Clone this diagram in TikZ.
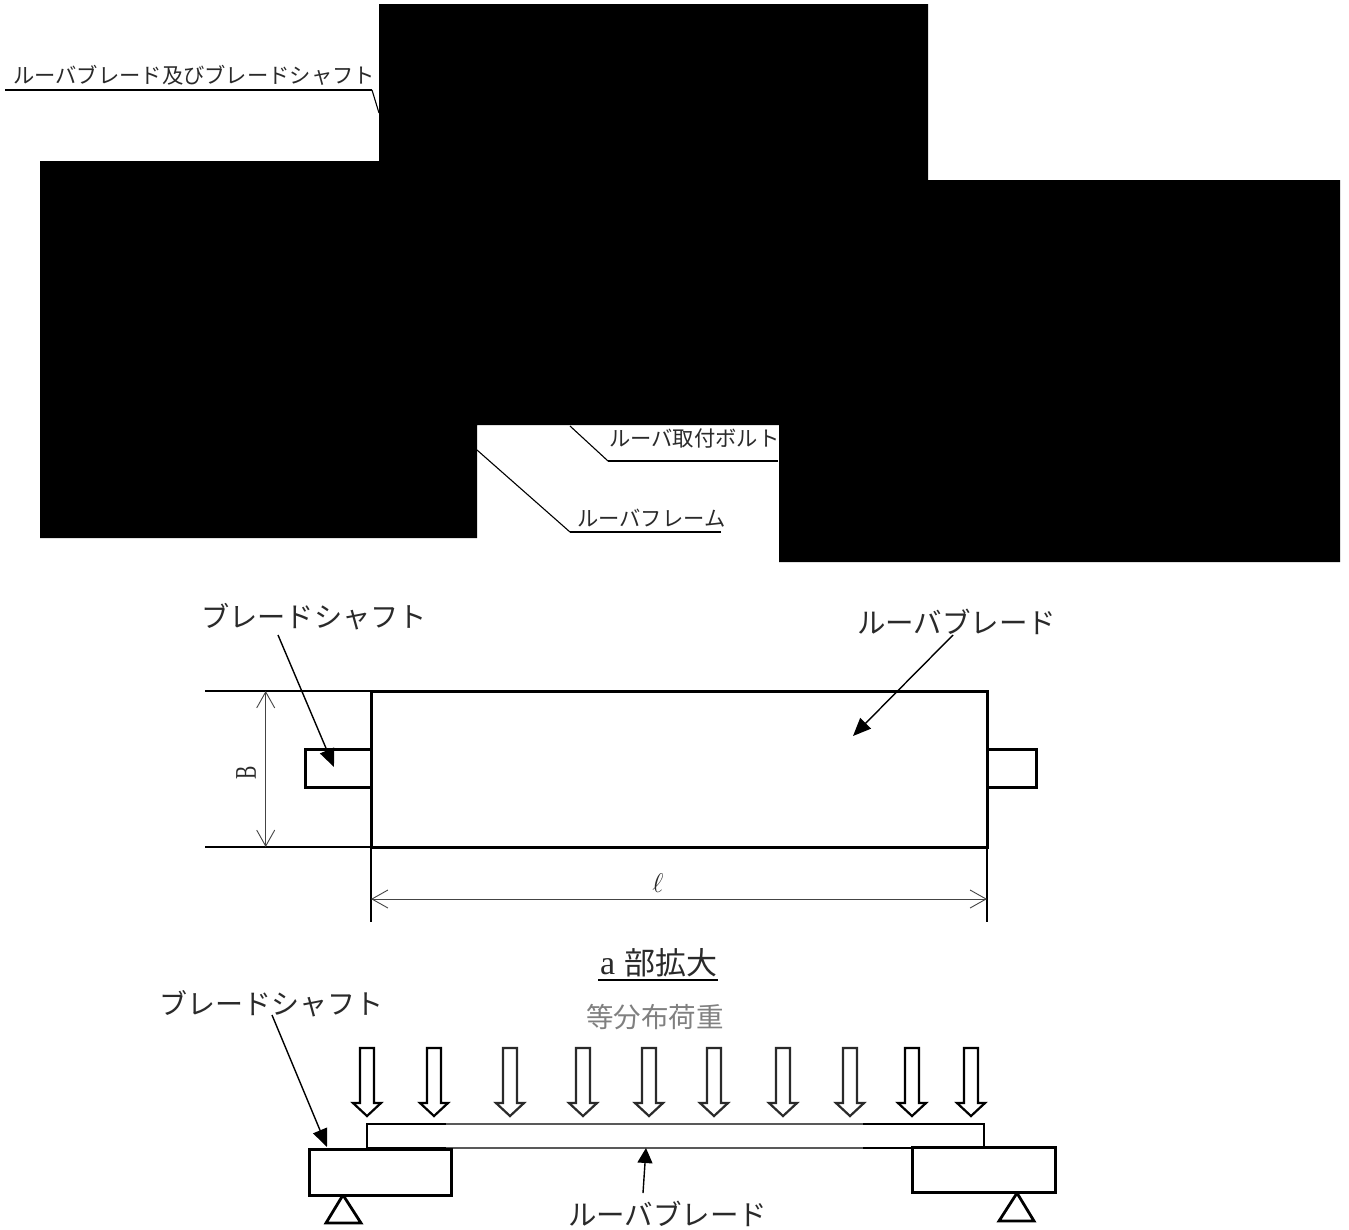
\documentclass[tikz,border=0pt]{standalone}
\usepackage{fontspec}
\setmainfont{Noto Sans CJK JP}
\newfontfamily\latinserif{Liberation Serif}
\usetikzlibrary{arrows.meta}
\definecolor{ink}{HTML}{2A2A2A}
\definecolor{dimgr}{HTML}{444444}
\tikzset{
  lab/.style={inner sep=0pt,text=ink,anchor=west},
  leader/.style={line width=1.8pt,line join=miter},
  thinld/.style={line width=1.1pt},
  partbox/.style={draw=black,line width=3pt,fill=white,inner sep=0pt,outer sep=0pt,anchor=north west},
  extline/.style={line width=1.1pt,black},
  dimline/.style={line width=.9pt,dimgr,{Straight Barb[length=16pt,width=18pt,line width=.9pt]}-{Straight Barb[length=16pt,width=18pt,line width=.9pt]}},
  ptr/.style={line width=1.4pt,-{Triangle[length=18pt,width=15pt]}},
  loadarrow/.style={line width=2.2pt,fill=white,line join=miter},
  support/.style={line width=2.8pt,fill=white,line join=miter}
}
\newcommand{\loadat}[2]{\draw[loadarrow,draw=#2] (#1-7,1048) -- (#1+7,1048) -- (#1+7,1103) -- (#1+14,1103) -- (#1,1116) -- (#1-14,1103) -- (#1-7,1103) -- cycle;}
\begin{document}
\begin{tikzpicture}[x=1pt,y=-1pt]
\useasboundingbox (0,0) rectangle (1349,1229);
\fill[white] (0,0) rectangle (1349,1229);
% black masked area
\fill[black] (379,4) -- (928,4) -- (928,180) -- (1340,180) -- (1340,562) -- (779,562) -- (779,425) -- (477,425) -- (477,538) -- (40,538) -- (40,161) -- (379,161) -- cycle;
% upper labels
\node[lab,font=\fontsize{21.3}{21}\selectfont] (t1) at (13,75) {ルーバブレード及びブレードシャフト};
\node[lab,font=\fontsize{21.3}{21}\selectfont] (t2) at (609,438) {ルーバ取付ボルト};
\node[lab,font=\fontsize{21.3}{21}\selectfont] (t3) at (577,518) {ルーバフレーム};
\coordinate (l1a) at (5,90); \coordinate (l1b) at (372,90); \coordinate (l1c) at (379,113);
\coordinate (l2a) at (778,461); \coordinate (l2b) at (608,461); \coordinate (l2c) at (570,426);
\coordinate (l3a) at (721,532); \coordinate (l3b) at (570,532); \coordinate (l3c) at (477,450);
\draw[leader] (l1a) -- (l1b); \draw[thinld] (l1b) -- (l1c);
\draw[leader] (l2a) -- (l2b); \draw[thinld] (l2b) -- (l2c);
\draw[leader] (l3a) -- (l3b); \draw[thinld] (l3b) -- (l3c);
% plan view
\node[partbox,minimum width=66pt,minimum height=38pt] (shL) at (305,749) {};
\node[partbox,minimum width=49pt,minimum height=38pt] (shR) at (987,749) {};
\node[partbox,minimum width=616pt,minimum height=156pt] (blade) at (371,691) {};
\coordinate (e1) at (205,691); \coordinate (e2) at (205,847);
\coordinate (e3) at (371,922); \coordinate (e4) at (987,922);
\draw[extline] (e1) -- (blade.north west);
\draw[extline] (e2) -- (blade.south west);
\draw[extline] (blade.south west) -- (e3);
\draw[extline] (blade.south east) -- (e4);
\coordinate (dB1) at (265.7,691); \coordinate (dB2) at (265.7,847);
\coordinate (dL1) at (371,899); \coordinate (dL2) at (987,899);
\draw[dimline] (dB1) -- (dB2);
\draw[dimline] (dL1) -- (dL2);
\node[inner sep=0pt,rotate=90,yscale=1.5,text=ink,font=\latinserif\fontsize{20}{20}\selectfont] (lB) at (246,773) {B};
\node[inner sep=0pt,scale=1.3,text=ink,font=\fontsize{20}{20}\selectfont] (lL) at (658,883) {$\ell$};
\node[lab,font=\fontsize{28.2}{28}\selectfont] (t4) at (201,617) {ブレードシャフト};
\node[lab,font=\fontsize{28.5}{28}\selectfont] (t5) at (857,622) {ルーバブレード};
\coordinate (a1s) at (278,635); \coordinate (a1e) at (334,767);
\coordinate (a2s) at (953,635); \coordinate (a2e) at (853,736);
\draw[ptr] (a1s) -- (a1e);
\draw[ptr] (a2s) -- (a2e);
% side view
\node[lab,font=\fontsize{31}{31}\selectfont] (t6) at (600,963) {\makebox[24.5pt][l]{\latinserif\fontsize{34}{34}\selectfont a}部拡大};
\coordinate (u1) at (598,980); \coordinate (u2) at (718,980);
\draw[line width=1.8pt] (u1) -- (u2);
\node[lab,font=\fontsize{27.5}{28}\selectfont,text=gray] (t7) at (586,1017) {等分布荷重};
\node[lab,font=\fontsize{28}{28}\selectfont] (t8) at (159,1004) {ブレードシャフト};
\node[lab,font=\fontsize{28.5}{28}\selectfont] (t9) at (568,1214) {ルーバブレード};
\node[partbox,minimum width=617pt,minimum height=24pt,line width=2.4pt] (beam) at (367,1124) {};
\draw[line width=2.6pt,draw=white!35!black] (446,1124) -- (863,1124);
\draw[line width=2.6pt,draw=white!35!black] (446,1148) -- (863,1148);
\draw[support] (343,1195) -- (361,1223) -- (326,1223) -- cycle;
\draw[support] (1017,1193) -- (1034,1221) -- (999,1221) -- cycle;
\node[partbox,minimum width=142pt,minimum height=46pt] (boxL) at (309,1149) {};
\node[partbox,minimum width=143pt,minimum height=45pt] (boxR) at (912,1147) {};
\foreach \xc in {367,434,912,971} {\loadat{\xc}{black}}
\foreach \xc in {510,583,649,714,783,850} {\loadat{\xc}{ink}}
\coordinate (a3s) at (272,1015); \coordinate (a3e) at (327,1147);
\coordinate (a4s) at (643,1193); \coordinate (a4e) at (646,1148);
\draw[ptr] (a3s) -- (a3e);
\draw[ptr,-{Triangle[length=15pt,width=15pt]}] (a4s) -- (a4e);
\end{tikzpicture}
\end{document}
